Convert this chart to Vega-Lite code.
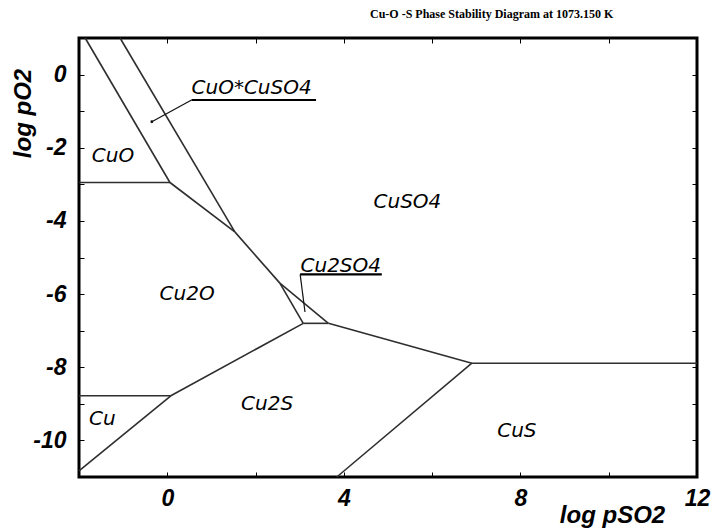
{
  "$schema": "https://vega.github.io/schema/vega-lite/v6.json",
  "width": 618,
  "height": 439,
  "autosize": {"type": "none"},
  "padding": {"left": 79, "top": 38, "right": 17, "bottom": 53},
  "background": "white",
  "title": {
    "text": "Cu-O -S Phase Stability Diagram at  1073.150 K",
    "font": "Liberation Serif",
    "fontWeight": "bold",
    "fontSize": 12,
    "color": "#000",
    "anchor": "start",
    "frame": "group",
    "dx": 291,
    "baseline": "alphabetic",
    "offset": 7
  },
  "config": {
    "view": {"stroke": "#000", "strokeWidth": 3},
    "axis": {
      "grid": false,
      "domain": false,
      "tickColor": "#000",
      "tickWidth": 1,
      "tickSize": -5,
      "labelFont": "Liberation Sans",
      "labelFontStyle": "italic",
      "labelFontWeight": "bold",
      "labelFontSize": 23,
      "labelColor": "#000",
      "labelFlush": false,
      "labelOverlap": false,
      "titleFont": "Liberation Sans",
      "titleFontStyle": "italic",
      "titleFontWeight": "bold",
      "titleFontSize": 24,
      "titleColor": "#000"
    }
  },
  "datasets": {
    "boundaries": [
      {"x": -2, "y": -2.95, "x2": 0.06, "y2": -2.95},
      {"x": -1.86, "y": 1, "x2": 0.06, "y2": -2.95},
      {"x": -1.07, "y": 1, "x2": 1.53, "y2": -4.3},
      {"x": 0.06, "y": -2.95, "x2": 1.53, "y2": -4.3},
      {"x": 1.53, "y": -4.3, "x2": 2.55, "y2": -5.7},
      {"x": 2.55, "y": -5.7, "x2": 3.08, "y2": -6.8},
      {"x": 2.55, "y": -5.7, "x2": 3.65, "y2": -6.8},
      {"x": 3.08, "y": -6.8, "x2": 3.65, "y2": -6.8},
      {"x": 0.08, "y": -8.78, "x2": 3.08, "y2": -6.8},
      {"x": -2, "y": -8.78, "x2": 0.08, "y2": -8.78},
      {"x": -2, "y": -10.83, "x2": 0.08, "y2": -8.78},
      {"x": 3.65, "y": -6.8, "x2": 6.9, "y2": -7.89},
      {"x": 6.9, "y": -7.89, "x2": 12, "y2": -7.89},
      {"x": 3.84, "y": -11, "x2": 6.9, "y2": -7.89}
    ],
    "leaders": [
      {"x": -0.35, "y": -1.29, "x2": 0.55, "y2": -0.695},
      {"x": 3.01, "y": -5.46, "x2": 3.12, "y2": -6.49}
    ],
    "dots": [
      {"x": -0.35, "y": -1.29}
    ],
    "underlines": [
      {"x": 0.55, "y": -0.695, "x2": 3.37, "y2": -0.695},
      {"x": 3.01, "y": -5.46, "x2": 4.86, "y2": -5.46}
    ],
    "labels": [
      {"name": "CuO", "x": -1.23, "y": -2.39},
      {"name": "CuO*CuSO4", "x": 1.91, "y": -0.54},
      {"name": "CuSO4", "x": 5.44, "y": -3.65},
      {"name": "Cu2O", "x": 0.45, "y": -6.16},
      {"name": "Cu2SO4", "x": 3.93, "y": -5.39},
      {"name": "Cu2S", "x": 2.26, "y": -9.17},
      {"name": "Cu", "x": -1.47, "y": -9.58},
      {"name": "CuS", "x": 7.92, "y": -9.9}
    ]
  },
  "layer": [
    {
      "data": {"name": "boundaries"},
      "mark": {"type": "rule", "color": "#2e2e2e", "strokeWidth": 1.6},
      "encoding": {
        "x": {
          "field": "x", "type": "quantitative",
          "scale": {"domain": [-2, 12], "nice": false, "zero": false},
          "axis": {
            "orient": "bottom",
            "values": [-2, 0, 2, 4, 6, 8, 10, 12],
            "labelExpr": "datum.value % 4 == 0 ? toString(datum.value) : ''",
            "labelPadding": 15,
            "title": "log pSO2",
            "titleX": 533,
            "titleY": 45,
            "titleAlign": "center",
            "titleBaseline": "alphabetic",
            "titleAnchor": null
          }
        },
        "y": {
          "field": "y", "type": "quantitative",
          "scale": {"domain": [-11, 1], "nice": false, "zero": false},
          "axis": {
            "orient": "left",
            "values": [-11, -10, -9, -8, -7, -6, -5, -4, -3, -2, -1, 0],
            "labelExpr": "datum.value % 2 == 0 ? toString(datum.value) : ''",
            "labelPadding": 18,
            "title": "log pO2",
            "titleX": -49,
            "titleY": 75,
            "titleAngle": -90,
            "titleAlign": "center",
            "titleBaseline": "alphabetic",
            "titleAnchor": null
          }
        },
        "x2": {"field": "x2"},
        "y2": {"field": "y2"}
      }
    },
    {
      "data": {"name": "leaders"},
      "mark": {"type": "rule", "color": "#111", "strokeWidth": 1.2},
      "encoding": {
        "x": {"field": "x", "type": "quantitative", "axis": null},
        "y": {"field": "y", "type": "quantitative", "axis": null},
        "x2": {"field": "x2"},
        "y2": {"field": "y2"}
      }
    },
    {
      "data": {"name": "dots"},
      "mark": {"type": "point", "filled": true, "color": "#111", "size": 8, "opacity": 1},
      "encoding": {
        "x": {"field": "x", "type": "quantitative", "axis": null},
        "y": {"field": "y", "type": "quantitative", "axis": null}
      }
    },
    {
      "data": {"name": "underlines"},
      "mark": {"type": "rule", "color": "#000", "strokeWidth": 2.2},
      "encoding": {
        "x": {"field": "x", "type": "quantitative", "axis": null},
        "y": {"field": "y", "type": "quantitative", "axis": null},
        "x2": {"field": "x2"},
        "y2": {"field": "y2"}
      }
    },
    {
      "data": {"name": "labels"},
      "mark": {
        "type": "text",
        "font": "DejaVu Sans",
        "fontStyle": "italic",
        "fontSize": 20,
        "color": "#000",
        "align": "center",
        "baseline": "alphabetic"
      },
      "encoding": {
        "x": {
          "field": "x", "type": "quantitative",
          "axis": {"orient": "top", "values": [0, 2, 4, 6, 8, 10], "labels": false, "title": null}
        },
        "y": {
          "field": "y", "type": "quantitative",
          "axis": {"orient": "right", "values": [-10, -9, -8, -7, -6, -5, -4, -3, -2, -1, 0], "labels": false, "title": null}
        },
        "text": {"field": "name"}
      }
    }
  ],
  "resolve": {"axis": {"x": "independent", "y": "independent"}}
}
